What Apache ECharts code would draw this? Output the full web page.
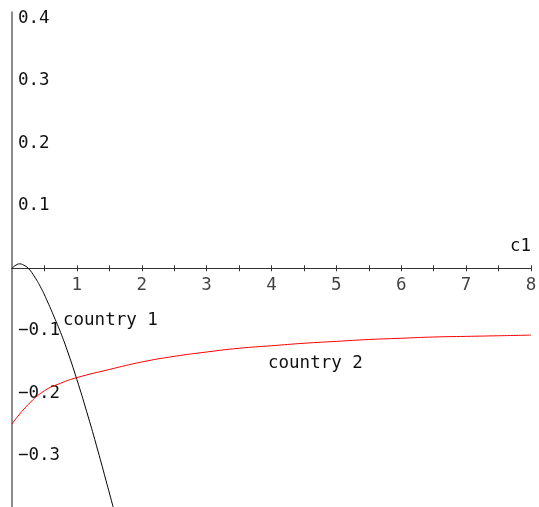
<!DOCTYPE html>
<html>
<head>
<meta charset="utf-8">
<script src="https://cdn.jsdelivr.net/npm/echarts@6/dist/echarts.min.js"></script>
<style>html,body{margin:0;padding:0;background:#fff}#c{width:539px;height:507px}</style>
</head>
<body>
<div id="c"></div>
<script>
// Data
var country1X = [0, 0.06, 0.12, 0.18, 0.25, 0.35, 0.45, 0.55, 0.65, 0.75, 0.85, 1.0, 1.15, 1.3, 1.45, 1.6];
var country1Y = [0, 0.005, 0.007, 0.005, 0, -0.014, -0.032, -0.054, -0.078, -0.103, -0.131, -0.178, -0.229, -0.283, -0.34, -0.398];
var country2X = [0, 0.25, 0.5, 0.75, 1, 1.5, 2, 2.5, 3, 3.5, 4, 4.5, 5, 5.5, 6, 6.5, 7, 7.5, 8];
var country2Y = [-0.249, -0.218, -0.196, -0.184, -0.175, -0.162, -0.150, -0.141, -0.134, -0.128, -0.124, -0.120, -0.117, -0.114, -0.112, -0.110, -0.109, -0.108, -0.107];
var xTickValues = [0.5, 1, 1.5, 2, 2.5, 3, 3.5, 4, 4.5, 5, 5.5, 6, 6.5, 7, 7.5, 8];
var xLabelValues = [1, 2, 3, 4, 5, 6, 7, 8];
var yLabelValues = [-0.3, -0.2, -0.1, 0.1, 0.2, 0.3, 0.4];
var xName = 'c1';
var seriesNames = ['country 1', 'country 2'];

function pairs(xs, ys) { return xs.map(function (x, i) { return [x, ys[i]]; }); }
var FONT = '"DejaVu Sans Mono", monospace';
var FS = 17.5;

var chart = echarts.init(document.getElementById('c'), null, { renderer: 'canvas' });
chart.setOption({
  animation: false,
  backgroundColor: '#fff',
  grid: { left: 12, right: 8, top: 12, bottom: 0, containLabel: false, outerBoundsMode: 'none' },
  xAxis: [{
    type: 'value', min: 0, max: 8, position: 'bottom',
    axisLine: { show: true, onZero: true, onZeroAxisIndex: 0, lineStyle: { color: '#333', width: 1 } },
    axisTick: { show: true, inside: false, length: 3, customValues: xTickValues, lineStyle: { color: '#333' } },
    axisLabel: { show: false },
    splitLine: { show: false }
  }, {
    type: 'value', min: 0, max: 8, position: 'bottom',
    axisLine: { show: false, onZero: true, onZeroAxisIndex: 0 },
    axisTick: { show: true, inside: true, length: 3, customValues: xTickValues, lineStyle: { color: '#333' } },
    axisLabel: { show: false },
    splitLine: { show: false }
  }],
  yAxis: {
    type: 'value', min: -0.382, max: 0.41, position: 'left',
    axisLine: { show: true, onZero: false, lineStyle: { color: '#666', width: 1.5 } },
    axisTick: { show: false },
    axisLabel: { show: true, inside: true, margin: 6, customValues: yLabelValues, color: '#111', fontFamily: FONT, fontSize: FS,
      formatter: function (v) { return (Math.round(v * 10) / 10).toFixed(1).replace('-', '\u2212'); } },
    splitLine: { show: false }
  },
  series: [{
    name: seriesNames[0], type: 'line', xAxisIndex: 0, data: pairs(country1X, country1Y),
    smooth: true, showSymbol: false, clip: true,
    lineStyle: { color: '#000', width: 1 }, z: 3
  }, {
    name: seriesNames[1], type: 'line', xAxisIndex: 0, data: pairs(country2X, country2Y),
    smooth: true, showSymbol: false, clip: true,
    lineStyle: { color: '#ff0000', width: 1 }, z: 3
  }, {
    name: 'xTickLabels', type: 'scatter', xAxisIndex: 0, silent: true, clip: false,
    data: xLabelValues.map(function (v) { return [v, 0]; }),
    symbol: 'circle', symbolSize: 1, itemStyle: { color: 'rgba(0,0,0,0)' },
    label: { show: true, position: 'bottom', distance: 8, color: '#111', fontFamily: FONT, fontSize: FS,
      formatter: function (p) { return String(p.value[0]); } },
    labelLayout: { hideOverlap: false },
    z: 2
  }],
  graphic: [
    { type: 'text', right: 8, top: 237, style: { text: xName, font: FS + 'px ' + FONT, fill: '#111' } },
    { type: 'text', left: 63, top: 311, style: { text: seriesNames[0], font: FS + 'px ' + FONT, fill: '#111' } },
    { type: 'text', left: 268, top: 354, style: { text: seriesNames[1], font: FS + 'px ' + FONT, fill: '#111' } }
  ]
});
</script>
</body>
</html>
